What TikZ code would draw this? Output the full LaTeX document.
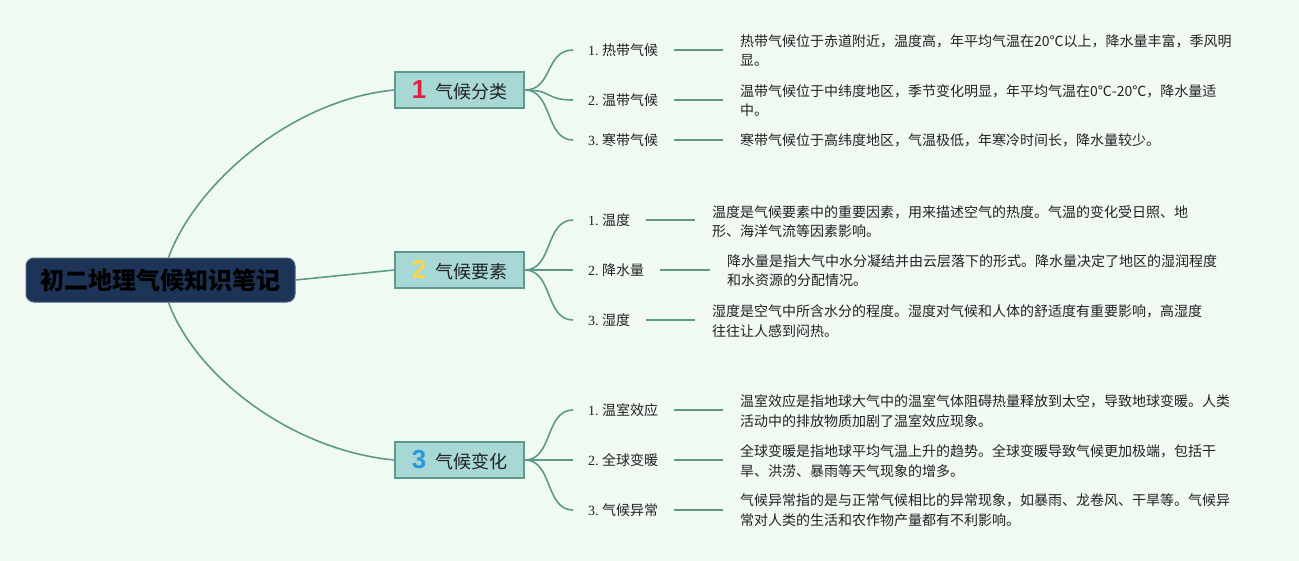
\documentclass[tikz,border=0pt]{standalone}
\usepackage{fontspec}
\setmainfont{Noto Sans CJK SC}
\newfontfamily\cjk{Noto Sans CJK SC}
\newfontfamily\serifnum{Liberation Serif}
\newfontfamily\numfont{Liberation Sans}
\usetikzlibrary{calc}
\definecolor{bgc}{RGB}{240,250,243}
\definecolor{linec}{RGB}{92,154,135}
\definecolor{boxfill}{RGB}{168,216,214}
\definecolor{boxdraw}{RGB}{94,154,140}
\definecolor{rootfill}{RGB}{30,52,86}
\definecolor{numred}{RGB}{226,30,60}
\definecolor{numyellow}{RGB}{246,214,74}
\definecolor{numblue}{RGB}{40,150,224}
\definecolor{txt}{RGB}{34,34,34}
\tikzset{
  rootbox/.style={fill=rootfill,draw=rootfill!80!white,line width=1pt,rounded corners=8pt,minimum width=269pt,minimum height=44pt,inner sep=0pt,text=black,font=\cjk\bfseries\fontsize{24}{28}\selectfont},
  branchbox/.style={fill=boxfill,draw=boxdraw,line width=1.8pt,minimum width=129pt,minimum height=36pt,inner sep=0pt,text=txt,font=\cjk\fontsize{18}{22}\selectfont},
  leaflabel/.style={anchor=west,inner sep=0pt,text=txt,font=\cjk\fontsize{14}{18}\selectfont},
  desc/.style={anchor=west,inner sep=0pt,align=left,text=txt,font=\cjk\fontsize{14}{19.5}\selectfont},
  conn/.style={draw=linec,line width=1.6pt},
}
\newcommand{\bnum}[2]{{\numfont\bfseries\fontsize{26}{26}\selectfont\color{#1}#2}\hspace{9pt}}
\newcommand{\lnum}[1]{{\serifnum #1.}\hspace{3.5pt}}
\begin{document}
\begin{tikzpicture}[x=1pt,y=-1pt]
\useasboundingbox (0,0) rectangle (1299,560);
\fill[bgc] (-5,-5) rectangle (1305,566);

\node[rootbox] (root) at (160.5,280) {初二地理气候知识笔记};

\node[branchbox] (b1) at (459.5,90) {\bnum{numred}{1}气候分类};
\node[branchbox] (b2) at (459.5,270) {\bnum{numyellow}{2}气候要素};
\node[branchbox] (b3) at (459.5,460) {\bnum{numblue}{3}气候变化};

% root connectors
\draw[conn] ([xshift=8pt]root.north) .. controls (195,185) and (290,100) .. (b1.west);
\draw[conn] (root.east) -- (b2.west);
\draw[conn] ([xshift=8pt]root.south) .. controls (195,375) and (290,450) .. (b3.west);

% leaves
\node[leaflabel] (l11) at (588,50) {\lnum{1}热带气候};
\node[leaflabel] (l12) at (588,100) {\lnum{2}温带气候};
\node[leaflabel] (l13) at (588,140) {\lnum{3}寒带气候};
\node[leaflabel] (l21) at (588,220) {\lnum{1}温度};
\node[leaflabel] (l22) at (588,270) {\lnum{2}降水量};
\node[leaflabel] (l23) at (588,320) {\lnum{3}湿度};
\node[leaflabel] (l31) at (588,410) {\lnum{1}温室效应};
\node[leaflabel] (l32) at (588,460) {\lnum{2}全球变暖};
\node[leaflabel] (l33) at (588,510) {\lnum{3}气候异常};

% descriptions
\node[desc] (d11) at (740,50.5) {热带气候位于赤道附近，温度高，年平均气温在20℃以上，降水量丰富，季风明\\显。};
\node[desc] (d12) at (740,100.5) {温带气候位于中纬度地区，季节变化明显，年平均气温在0℃-20℃，降水量适\\中。};
\node[desc] (d13) at (740,140) {寒带气候位于高纬度地区，气温极低，年寒冷时间长，降水量较少。};
\node[desc] (d21) at (712,221.5) {温度是气候要素中的重要因素，用来描述空气的热度。气温的变化受日照、地\\形、海洋气流等因素影响。};
\node[desc] (d22) at (727,270.5) {降水量是指大气中水分凝结并由云层落下的形式。降水量决定了地区的湿润程度\\和水资源的分配情况。};
\node[desc] (d23) at (712,321) {湿度是空气中所含水分的程度。湿度对气候和人体的舒适度有重要影响，高湿度\\往往让人感到闷热。};
\node[desc] (d31) at (740,411) {温室效应是指地球大气中的温室气体阻碍热量释放到太空，导致地球变暖。人类\\活动中的排放物质加剧了温室效应现象。};
\node[desc] (d32) at (740,461) {全球变暖是指地球平均气温上升的趋势。全球变暖导致气候更加极端，包括干\\旱、洪涝、暴雨等天气现象的增多。};
\node[desc] (d33) at (740,510) {气候异常指的是与正常气候相比的异常现象，如暴雨、龙卷风、干旱等。气候异\\常对人类的生活和农作物产量都有不利影响。};

% branch to leaf curves
\foreach \b/\l in {b1/l11,b1/l12,b1/l13,b2/l21,b2/l22,b2/l23,b3/l31,b3/l32,b3/l33}{
  \draw[conn] (\b.east) .. controls +(28,0) and +(-28,0) .. ($(\l.west)+(-15,0)$);
}
% leaf to description lines
\foreach \l/\d in {l11/d11,l12/d12,l13/d13,l21/d21,l22/d22,l23/d23,l31/d31,l32/d32,l33/d33}{
  \draw[conn] ($(\l.east)+(16,0)$) -- ($(\l.east -| \d.west)+(-17,0)$);
}
\end{tikzpicture}
\end{document}
